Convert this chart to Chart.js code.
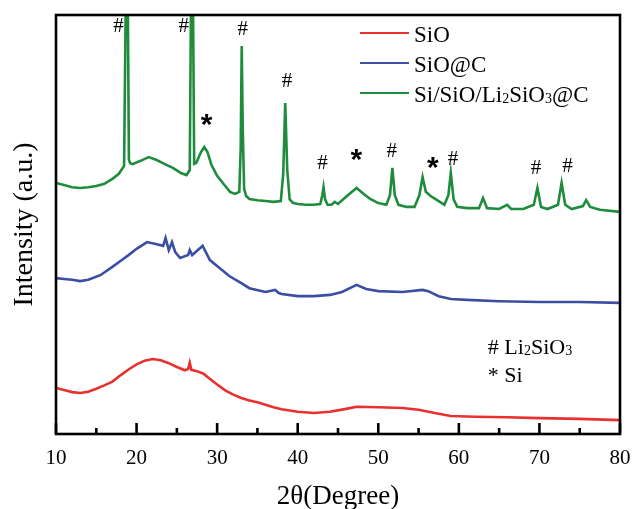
<!DOCTYPE html>
<html lang="en">
<head>
  <meta charset="UTF-8">
  <title>XRD patterns</title>
  <style>
    html, body { margin: 0; padding: 0; background: #fff; }
    #wrap { width: 633px; height: 509px; }
  </style>
</head>
<body>
  <div id="wrap"><canvas id="chart"></canvas></div>

  <script src="https://cdn.jsdelivr.net/npm/chart.js"></script>
  <script>
    // 2theta (degree), intensity (a.u.)
    const sioPoints = [
      [10, 11.0], [11, 10.5], [12, 10.0], [13, 9.8], [14, 10.1], [15, 10.8], [16, 11.6], [17, 12.5],
      [18, 14.0], [19, 15.4], [20, 16.6], [21, 17.5], [22, 17.9], [23, 17.6], [24, 16.9], [25, 16.0],
      [26, 15.2], [26.4, 15.5], [26.6, 17.0], [26.8, 15.3], [27.5, 15.0], [28.3, 14.4], [29, 13.3],
      [30, 11.8], [31, 10.4], [32, 9.4], [33, 8.6], [34, 8.0], [35, 7.6], [36, 7.0], [37, 6.4],
      [38, 5.9], [40, 5.3], [42, 5.0], [44, 5.3], [46, 6.0], [47.3, 6.5], [50, 6.4], [53, 6.2],
      [55, 5.8], [57, 5.0], [59, 4.3], [62, 4.1], [66, 4.0], [70, 3.8], [75, 3.6], [80, 3.3]
    ];

    const siocPoints = [
      [10, 37.2], [11, 37.0], [12, 36.8], [13, 36.5], [14, 36.8], [15.5, 37.9], [17, 39.9], [18, 41.3],
      [19, 42.7], [20, 44.2], [21.3, 45.8], [22.5, 45.3], [23.3, 44.9], [23.6, 46.8], [24, 43.9],
      [24.4, 45.8], [24.8, 43.4], [25.4, 42.0], [26.4, 42.7], [26.6, 43.9], [26.9, 42.7], [27.9, 44.4],
      [28.2, 44.9], [29.1, 41.5], [30.3, 39.6], [31.5, 37.7], [33, 36.0], [34, 34.8], [36, 33.9],
      [37.2, 34.4], [37.6, 33.7], [38, 33.4], [40, 32.9], [42, 32.9], [44, 33.2], [45.5, 33.9],
      [47.3, 35.6], [48.5, 34.6], [50, 34.1], [53, 33.9], [55.5, 34.4], [56.2, 34.1], [57.5, 32.9],
      [59, 32.2], [61, 32.0], [65, 31.7], [70, 31.5], [75, 31.5], [80, 31.3]
    ];

    const compositePoints = [
      [10, 59.9], [11, 59.4], [12, 58.9], [13, 58.7], [14, 58.9], [15, 59.2], [16, 59.7], [17, 60.9],
      [17.8, 62.1], [18.45, 64.0], [18.75, 120], [18.85, 120], [19.05, 65.5],
      [19.2, 64.6], [19.5, 64.4], [20.5, 65.2], [21.5, 66.1], [22.5, 65.4], [23.5, 64.4],
      [24.5, 63.5], [25.5, 62.3], [26.2, 61.8], [26.6, 63.0], [26.82, 120],
      [26.94, 120], [27.15, 64.5], [27.4, 64.7], [28.0, 67.3], [28.4, 68.5], [28.8, 67.3],
      [29.3, 64.2], [30, 61.6], [31, 59.2], [31.6, 57.8], [32.2, 57.3], [32.75, 57.8], [32.92, 68],
      [33.05, 92.6], [33.18, 72.6], [33.35, 58.5], [33.6, 56.8], [34, 56.1], [35, 55.8], [36, 55.6],
      [37, 55.4], [37.9, 55.6], [38.2, 62], [38.45, 79.0], [38.7, 63], [39, 56], [39.4, 55.2],
      [40, 54.9], [41, 54.7], [42, 54.7], [42.8, 54.9], [43.05, 57], [43.2, 58.9], [43.4, 56],
      [43.7, 54.7], [44.2, 54.7], [44.6, 55.4], [45, 54.9], [46, 56.6], [47.3, 58.7], [48.2, 57.3],
      [49, 56.1], [50, 55.1], [51, 54.7], [51.45, 57.0], [51.75, 63.5], [52.05, 57.0], [52.5, 54.7],
      [53.5, 54.2], [54.5, 54.2], [55.1, 57.0], [55.5, 61.3], [55.9, 57.8], [56.5, 56.8], [57.3, 55.8],
      [58.2, 54.7], [58.7, 57.0], [59.0, 62.3], [59.35, 56.0], [59.8, 54.2], [61, 53.9], [62.5, 53.9],
      [63.0, 56.3], [63.5, 53.9], [65, 53.7], [66.0, 54.7], [66.5, 53.7], [68, 53.7], [69.3, 54.7],
      [69.75, 58.7], [70.2, 54.2], [71, 53.7], [72.3, 54.7], [72.75, 59.9], [73.2, 54.7], [74, 53.7],
      [75.4, 54.4], [75.8, 55.8], [76.3, 54.2], [77.5, 53.5], [80, 53.0]
    ];

    const seriesLabels = ['SiO', 'SiO@C', 'Si/SiO/Li₂SiO₃@C'];
    const seriesColors = ['#e8302e', '#3a4fa3', '#1f8c3d'];

    const majorTicks = [10, 20, 30, 40, 50, 60, 70, 80];
    const minorTicks = [15, 25, 35, 45, 55, 65, 75];

    // peak markers: [text, 2theta, intensity]
    const phaseMarks = [
      ['#', 17.8, 97.6], ['#', 25.9, 97.6], ['#', 33.2, 96.9], ['#', 38.7, 84.5], ['#', 43.1, 64.9],
      ['#', 51.7, 67.8], ['#', 59.3, 65.9], ['#', 69.6, 63.7], ['#', 73.5, 64.2]
    ];
    const siMarks = [[28.7, 74.9], [47.3, 66.6], [56.8, 64.7]];

    const noteLines = ['# Li₂SiO₃', '* Si'];

    const serif = "'Liberation Serif', 'Times New Roman', serif";

    // draws text, turning ₂ ₃ into small subscript digits
    function drawRich(ctx, text, x, y, size) {
      const subs = { '₂': '2', '₃': '3' };
      let cx = x;
      for (const ch of text) {
        if (subs[ch]) {
          ctx.font = Math.round(size * 0.62) + 'px ' + serif;
          ctx.fillText(subs[ch], cx, y + size * 0.04);
          cx += ctx.measureText(subs[ch]).width;
        } else {
          ctx.font = size + 'px ' + serif;
          ctx.fillText(ch, cx, y);
          cx += ctx.measureText(ch).width;
        }
      }
    }

    function drawCentered(ctx, text, x, y) {
      const m = ctx.measureText(text);
      const w = m.actualBoundingBoxRight + m.actualBoundingBoxLeft;
      const h = m.actualBoundingBoxAscent + m.actualBoundingBoxDescent;
      ctx.fillText(text, x - w / 2 + m.actualBoundingBoxLeft, y - h / 2 + m.actualBoundingBoxAscent);
    }

    const decorPlugin = {
      id: 'decor',
      afterDraw(chart) {
        const { ctx, chartArea: a, scales: { x, y } } = chart;
        ctx.save();
        ctx.strokeStyle = '#000';
        ctx.fillStyle = '#000';
        ctx.lineWidth = 2.6;

        // inward ticks on the bottom axis
        ctx.beginPath();
        majorTicks.forEach(t => {
          const px = x.getPixelForValue(t);
          ctx.moveTo(px, a.bottom);
          ctx.lineTo(px, a.bottom - 11);
        });
        minorTicks.forEach(t => {
          const px = x.getPixelForValue(t);
          ctx.moveTo(px, a.bottom);
          ctx.lineTo(px, a.bottom - 6);
        });
        ctx.stroke();

        // frame
        ctx.strokeRect(a.left, a.top, a.right - a.left, a.bottom - a.top);

        // peak markers
        ctx.textAlign = 'left';
        ctx.textBaseline = 'alphabetic';
        ctx.font = '21px ' + serif;
        phaseMarks.forEach(([t, px, py]) => {
          drawCentered(ctx, t, x.getPixelForValue(px), y.getPixelForValue(py));
        });
        ctx.font = "bold 30px 'Liberation Sans', Arial, sans-serif";
        siMarks.forEach(([px, py]) => {
          drawCentered(ctx, '*', x.getPixelForValue(px), y.getPixelForValue(py));
        });

        // legend
        chart.data.datasets.forEach((ds, i) => {
          const rowY = a.top + 18 + i * 30;
          ctx.strokeStyle = ds.borderColor;
          ctx.lineWidth = 2;
          ctx.beginPath();
          ctx.moveTo(360, rowY);
          ctx.lineTo(409, rowY);
          ctx.stroke();
          ctx.fillStyle = '#000';
          drawRich(ctx, ds.label, 414, rowY + 9, 23);
        });

        // phase note
        noteLines.forEach((t, i) => {
          drawRich(ctx, t, x.getPixelForValue(63.6), y.getPixelForValue(19 - i * 6.7), 22);
        });
        ctx.restore();
      }
    };

    const pointSets = [sioPoints, siocPoints, compositePoints];

    new Chart(document.getElementById('chart'), {
      type: 'line',
      data: {
        datasets: pointSets.map((pts, i) => ({
          label: seriesLabels[i],
          data: pts.map(([px, py]) => ({ x: px, y: py })),
          borderColor: seriesColors[i],
          borderWidth: 2.6,
          pointRadius: 0,
          tension: 0,
          fill: false
        }))
      },
      options: {
        responsive: true,
        maintainAspectRatio: false,
        animation: false,
        layout: { padding: { top: 15, right: 13, left: 0, bottom: 0 } },
        plugins: { legend: { display: false }, tooltip: { enabled: false } },
        scales: {
          x: {
            type: 'linear',
            min: 10,
            max: 80,
            afterBuildTicks: s => { s.ticks = majorTicks.map(v => ({ value: v })); },
            afterFit: s => { s.height = 75; s.paddingLeft = 0; s.paddingRight = 0; },
            ticks: { color: '#000', padding: 12, font: { family: serif, size: 21 } },
            grid: { display: false, drawTicks: false },
            border: { display: false },
            title: {
              display: true,
              text: '2θ(Degree)',
              color: '#000',
              font: { family: serif, size: 27 },
              padding: { top: 0, bottom: -4 }
            }
          },
          y: {
            min: 0,
            max: 100,
            afterFit: s => { s.width = 56; },
            ticks: { display: false },
            grid: { display: false, drawTicks: false },
            border: { display: false },
            title: {
              display: true,
              text: 'Intensity (a.u.)',
              color: '#000',
              font: { family: serif, size: 28 },
              padding: { top: 8, bottom: 0 }
            }
          }
        }
      },
      plugins: [decorPlugin]
    });
  </script>
</body>
</html>
